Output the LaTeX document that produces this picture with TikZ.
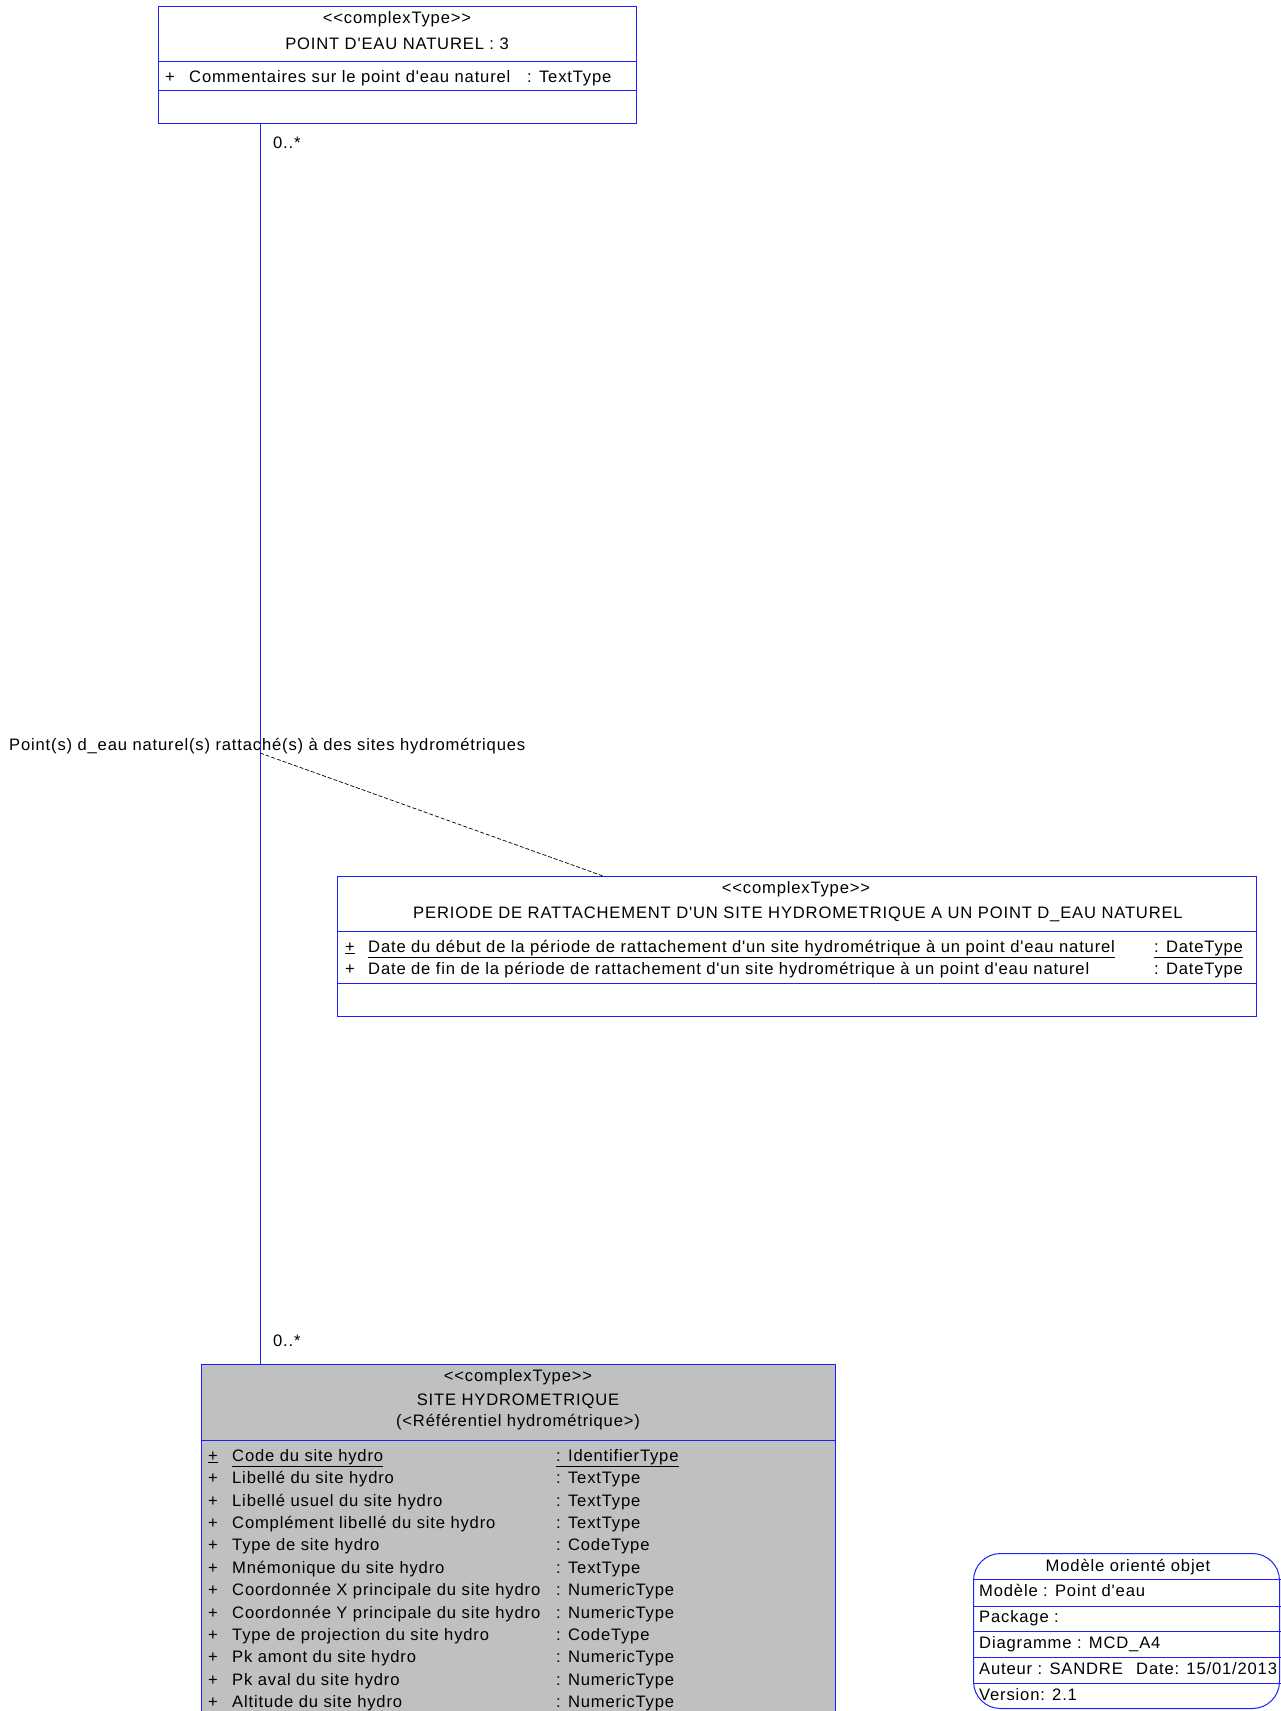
\documentclass[tikz,border=0pt]{standalone}
\usepackage{fontspec}
\setmainfont{Liberation Sans}[LetterSpace=5, Ligatures=TeXOff]
\definecolor{umlblue}{RGB}{30,30,255}
\definecolor{sitegray}{RGB}{192,192,192}
\begin{document}
\begin{tikzpicture}[x=1pt,y=-1pt,
  font=\fontsize{16.6}{19}\selectfont,
  classbox/.style={draw=umlblue, line width=1pt, inner sep=0pt, anchor=north west, rectangle},
  sepline/.style={draw=umlblue, line width=1pt},
  txt/.style={inner sep=0pt, anchor=mid west, yshift=-3.5pt},
  ctr/.style={inner sep=0pt, anchor=mid, yshift=-3.5pt},
  assoc/.style={draw=umlblue, line width=1pt},
  dashlink/.style={draw=black, line width=0.7pt, dash pattern=on 4pt off 2pt}]
\useasboundingbox (0,0) rectangle (1281,1711);

% --- POINT D'EAU NATUREL
\node[classbox, minimum width=478pt, minimum height=117pt] (pen) at (158,6) {};
\draw[sepline] (158,61) -- (637,61);
\draw[sepline] (158,90) -- (637,90);
\node[ctr] (penst) at (397,17) {<{}<complexType>{}>};
\node[ctr] (penti) at (397,43) {POINT D'EAU NATUREL : 3};
\node[txt] (pena0) at (165,76) {+};
\node[txt] (pena1) at (189,76) {Commentaires sur le point d'eau naturel};
\node[txt] (pena2) at (527,76) {: TextType};

% --- PERIODE
\node[classbox, minimum width=919pt, minimum height=140pt] (per) at (337,876) {};
\draw[sepline] (337,931) -- (1256,931);
\draw[sepline] (337,983) -- (1256,983);
\node[ctr] (perst) at (796,887) {<{}<complexType>{}>};
\node[ctr] (perti) at (798,912) {PERIODE DE RATTACHEMENT D'UN SITE HYDROMETRIQUE A UN POINT D\_EAU NATUREL};
\node[txt] (pera0) at (345,946) {\underline{+}};
\node[txt] (pera1) at (368,946) {\underline{Date du début de la période de rattachement d'un site hydrométrique à un point d'eau naturel}};
\node[txt] (pera2) at (1154,946) {\underline{: DateType}};
\node[txt] (perb0) at (345,968) {+};
\node[txt] (perb1) at (368,968) {Date de fin de la période de rattachement d'un site hydrométrique à un point d'eau naturel};
\node[txt] (perb2) at (1154,968) {: DateType};

% --- SITE HYDROMETRIQUE
\node[classbox, fill=sitegray, minimum width=634pt, minimum height=360pt] (site) at (201,1364) {};
\draw[sepline] (201,1440) -- (836,1440);
\node[ctr] (sitest) at (518,1375) {<{}<complexType>{}>};
\node[ctr] (siteti) at (518,1399) {SITE HYDROMETRIQUE};
\node[ctr] (sitesu) at (518,1420) {(<Référentiel hydrométrique>)};
\node[txt] (s0a) at (208,1455) {\underline{+}};
\node[txt] (s0b) at (232,1455) {\underline{Code du site hydro}};
\node[txt] (s0c) at (556,1455) {\underline{: IdentifierType}};
\foreach \n/\t [count=\i] in {
  {Libellé du site hydro}/{: TextType},
  {Libellé usuel du site hydro}/{: TextType},
  {Complément libellé du site hydro}/{: TextType},
  {Type de site hydro}/{: CodeType},
  {Mnémonique du site hydro}/{: TextType},
  {Coordonnée X principale du site hydro}/{: NumericType},
  {Coordonnée Y principale du site hydro}/{: NumericType},
  {Type de projection du site hydro}/{: CodeType},
  {Pk amont du site hydro}/{: NumericType},
  {Pk aval du site hydro}/{: NumericType},
  {Altitude du site hydro}/{: NumericType}} {
  \node[txt] (s\i a) at (208,1455+22.42*\i) {+};
  \node[txt] (s\i b) at (232,1455+22.42*\i) {\n};
  \node[txt] (s\i c) at (556,1455+22.42*\i) {\t};
}

% --- association
\coordinate (lx) at (260,0);
\draw[assoc] (pen.south -| lx) -- (site.north -| lx);
\node[txt] (m1) at (273,142) {0..*};
\node[txt] (m2) at (273,1340) {0..*};
\node[txt] (alab) at (9,744) {Point(s) d\_eau naturel(s) rattaché(s) à des sites hydrométriques};
\coordinate (amid) at (260,753);
\coordinate (px) at (603,0);
\draw[dashlink] (amid) -- (per.north -| px);

% --- legend
\node[draw=umlblue, line width=1pt, rounded corners=27pt, inner sep=0pt, anchor=north west,
      minimum width=306pt, minimum height=155pt] (leg) at (973,1553) {};
\foreach \yy in {1579,1606,1631,1657,1683} \draw[sepline] (973,\yy) -- (1281,\yy);
\node[ctr] (legt) at (1128,1565) {Modèle orienté objet};
\node[txt] (leg1) at (979,1590) {Modèle : Point d'eau};
\node[txt] (leg2) at (979,1616) {Package :};
\node[txt] (leg3) at (979,1642) {Diagramme : MCD\_A4};
\node[txt] (leg4) at (979,1668) {Auteur : SANDRE};
\node[txt] (leg4b) at (1136,1668) {Date: 15/01/2013};
\node[txt] (leg5) at (979,1694) {Version: 2.1};
\end{tikzpicture}
\end{document}
